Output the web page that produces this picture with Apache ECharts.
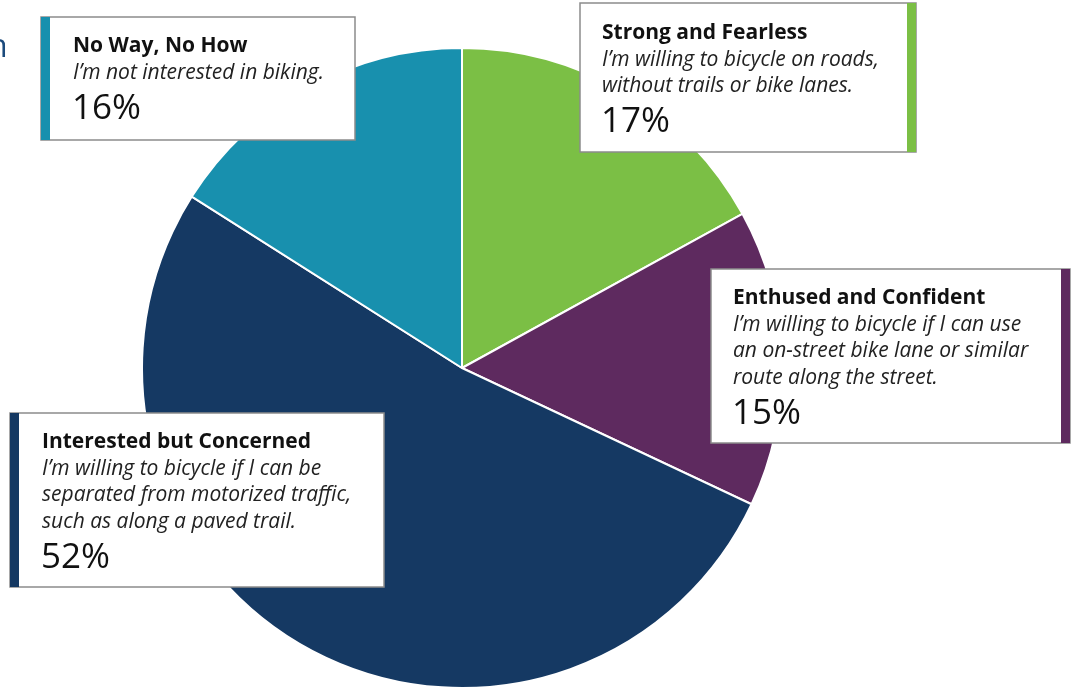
<!DOCTYPE html>
<html>
<head>
<meta charset="utf-8">
<script src="https://cdn.jsdelivr.net/npm/echarts@6/dist/echarts.min.js"></script>
<style>
    html, body { margin: 0; padding: 0; background: #fff; }
    #main { width: 1073px; height: 688px; }
</style>
</head>
<body>
<div id="main"></div>
<script>
// 数据
var names = ['Strong and Fearless', 'Enthused and Confident', 'Interested but Concerned', 'No Way, No How'];
var values = [17, 15, 52, 16];
var colors = ['#7bbf45', '#5e2a5f', '#153963', '#1890ae'];
var descriptions = [
    ['I’m willing to bicycle on roads,', 'without trails or bike lanes.'],
    ['I’m willing to bicycle if I can use', 'an on-street bike lane or similar', 'route along the street.'],
    ['I’m willing to bicycle if I can be', 'separated from motorized traffic,', 'such as along a paved trail.'],
    ['I’m not interested in biking.']
];

// 标注框的位置
var boxes = [
    { x: 580, y: 3, w: 336, h: 149, bar: 'right', tx: 602, ty: 33 },
    { x: 711, y: 269, w: 359, h: 174, bar: 'right', tx: 733, ty: 298 },
    { x: 10, y: 413, w: 374, h: 174, bar: 'left', tx: 42, ty: 442 },
    { x: 41, y: 17, w: 314, h: 123, bar: 'left', tx: 73, ty: 46 }
];

var font = '"Open Sans", "Noto Sans", sans-serif';
var lineH = 26.7;

var graphics = [];
// 左上角被裁掉的文字
graphics.push({
    type: 'text', z: 10, x: -12, y: 48,
    style: { text: 'n', fill: '#1b4a7c', font: '32px ' + font, verticalAlign: 'middle' }
});

boxes.forEach(function (b, i) {
    graphics.push({
        type: 'rect', z: 10,
        shape: { x: b.x, y: b.y, width: b.w, height: b.h },
        style: { fill: '#fff', stroke: '#8c8c8c', lineWidth: 1.5 }
    });
    var barX = b.bar === 'left' ? b.x : b.x + b.w - 9;
    graphics.push({
        type: 'rect', z: 11,
        shape: { x: barX, y: b.y, width: 9, height: b.h },
        style: { fill: colors[i] }
    });
    graphics.push({
        type: 'text', z: 12, x: b.tx, y: b.ty,
        style: { text: names[i], fill: '#111', font: 'bold 21px ' + font, verticalAlign: 'middle' }
    });
    var y = b.ty;
    descriptions[i].forEach(function (line) {
        y += lineH;
        graphics.push({
            type: 'text', z: 12, x: b.tx, y: y,
            style: { text: line, fill: '#222', font: 'italic 21px ' + font, verticalAlign: 'middle' }
        });
    });
    graphics.push({
        type: 'text', z: 12, x: b.tx - 1, y: y + 36,
        style: { text: values[i] + '%', fill: '#111', font: '35px ' + font, verticalAlign: 'middle' }
    });
});

var pieData = [];
for (var i = 0; i < names.length; i++) {
    pieData.push({ name: names[i], value: values[i], itemStyle: { color: colors[i] } });
}

var myChart = echarts.init(document.getElementById('main'));
var option = {
    animation: false,
    series: [{
        type: 'pie',
        center: [462, 368],
        radius: 320,
        startAngle: 90,
        clockwise: true,
        label: { show: false },
        labelLine: { show: false },
        itemStyle: { borderColor: '#fff', borderWidth: 2 },
        emphasis: { disabled: true },
        data: pieData
    }],
    graphic: graphics
};
myChart.setOption(option);
</script>
</body>
</html>
